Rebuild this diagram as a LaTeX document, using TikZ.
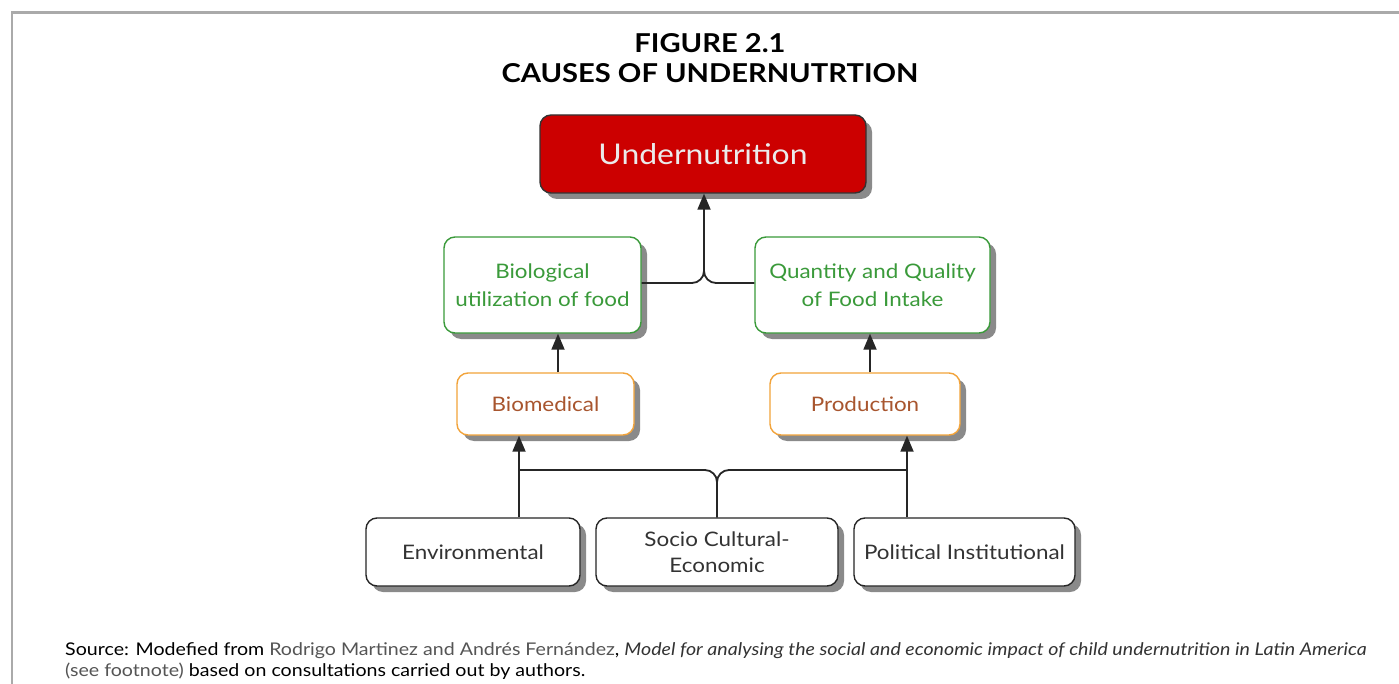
\documentclass[tikz,border=0pt]{standalone}
\usepackage{fontspec}
\setmainfont[FakeStretch=1.12]{Lato}
\usetikzlibrary{shadows,arrows.meta}
\definecolor{frame}{HTML}{AAAAAA}
\definecolor{redbox}{HTML}{CC0000}
\definecolor{greenc}{HTML}{3A9A3A}
\definecolor{orangec}{HTML}{F2A33A}
\definecolor{brownc}{HTML}{A8552E}
\definecolor{darktext}{HTML}{333333}
\definecolor{shadowc}{HTML}{8A8A8A}
\definecolor{linkc}{HTML}{555555}
\tikzset{
  box/.style={draw, line width=1.4pt, rounded corners=11pt, fill=white, align=center,
    inner sep=0pt,
    drop shadow={fill=shadowc, opacity=1, shadow xshift=6pt, shadow yshift=-6pt}},
  topbox/.style={box, fill=redbox, draw=black!80, text=white!92!black, font=\fontsize{28.5}{32}\selectfont},
  greenbox/.style={box, draw=greenc, text=greenc, font=\fontsize{20}{28}\selectfont},
  orangebox/.style={box, draw=orangec, text=brownc, font=\fontsize{20}{24}\selectfont},
  blackbox/.style={box, draw=black!85, text=darktext, font=\fontsize{20}{26}\selectfont},
  conn/.style={line width=1.8pt, black!85, rounded corners=12pt},
  arr/.style={conn, -{Triangle[width=13pt,length=16pt]}},
}
\begin{document}
\begin{tikzpicture}[x=1pt,y=-1pt]
\useasboundingbox (0,0) rectangle (1399,684);
\fill[white] (0,0) rectangle (1399,684);
\draw[frame, line width=2.2pt] (12,684) -- (12,12.5) -- (1399,12.5);

\node[font=\bfseries\fontsize{26}{30}\selectfont, align=center] (title) at (710,58)
  {FIGURE 2.1\\CAUSES OF UNDERNUTRTION};

\node[topbox, minimum width=326pt, minimum height=78pt] (under) at (703,154) {Undernutrition};
\node[greenbox, minimum width=197pt, minimum height=96pt] (bio) at (542.5,285) {Biological\\utilization of food};
\node[greenbox, minimum width=235pt, minimum height=96pt] (qty) at (872.5,285) {Quantity and Quality\\of Food Intake};
\node[orangebox, minimum width=177pt, minimum height=62pt] (biomed) at (545.5,404) {Biomedical};
\node[orangebox, minimum width=190pt, minimum height=62pt] (prod) at (865,404) {Production};
\node[blackbox, minimum width=214pt, minimum height=68pt] (env) at (473,552) {Environmental};
\node[blackbox, minimum width=242pt, minimum height=68pt] (socio) at (717,552) {Socio Cultural-\\Economic};
\node[blackbox, minimum width=221pt, minimum height=68pt] (pol) at (964.5,552) {Political Institutional};

% top junction
\coordinate (topj) at (704,283);
\draw[arr] (bio.east |- topj) -- (topj) -- (under.south -| topj);
\draw[conn] (qty.west |- topj) -- (topj) -- (704,240);

% middle arrows
\coordinate (bmx) at (558,0);
\coordinate (prx) at (870,0);
\draw[arr] (biomed.north -| bmx) -- (bio.south -| bmx);
\draw[arr] (prod.north -| prx) -- (qty.south -| prx);

% bottom junction
\coordinate (envj) at (519,470);
\coordinate (polj) at (907,470);
\coordinate (socj) at (717,470);
\draw[arr] (env.north -| envj) -- (biomed.south -| envj);
\draw[arr] (pol.north -| polj) -- (prod.south -| polj);
\draw[conn] (socio.north) -- (socj) -- (envj);
\draw[conn] (socio.north) -- (socj) -- (polj);

\node[anchor=base west, font=\fontsize{17.5}{21}\selectfont, align=left, inner sep=0pt] (src) at (65,676)
  {Source: Modefied from \textcolor{linkc}{Rodrigo Martinez and Andrés Fernández}, \textit{\textcolor{darktext}{Model for analysing the social and economic impact of child undernutrition in Latin America}}\\
   \textcolor{linkc}{(see footnote)} based on consultations carried out by authors.};
\end{tikzpicture}
\end{document}
